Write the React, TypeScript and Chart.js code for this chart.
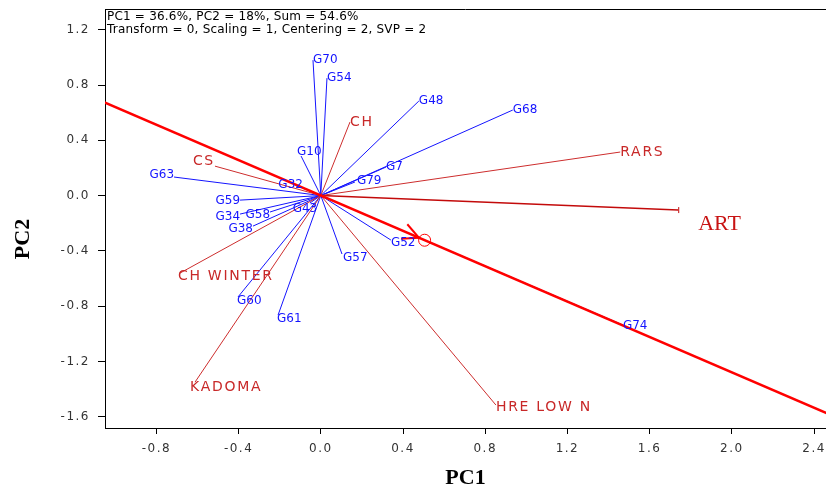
import React, { useEffect, useRef } from "react";
import { Chart, registerables } from "chart.js";

Chart.register(...registerables);

// ---- data ----
const genotypes = ["G70", "G54", "G48", "G68", "G10", "G7", "G79", "G32", "G63", "G59", "G34", "G58", "G38", "G43", "G57", "G52", "G74", "G60", "G61"];
const genoPC1 = [-0.038, 0.03, 0.477, 0.934, -0.096, 0.317, 0.166, -0.087, -0.714, -0.393, -0.393, -0.247, -0.33, -0.053, 0.103, 0.341, 1.47, -0.403, -0.208];
const genoPC2 = [0.98, 0.85, 0.684, 0.619, 0.286, 0.206, 0.098, 0.054, 0.134, -0.033, -0.134, -0.119, -0.221, -0.054, -0.423, -0.322, -0.937, -0.734, -0.865];

const environments = ["CH", "RARS", "ART", "CS", "CH WINTER", "KADOMA", "HRE LOW N"];
const envPC1 = [0.142, 1.457, 1.739, -0.515, -0.685, -0.612, 0.852];
const envPC2 = [0.532, 0.315, -0.105, 0.213, -0.561, -1.35, -1.516];

const xTicks = [-0.8, -0.4, 0.0, 0.4, 0.8, 1.2, 1.6, 2.0, 2.4];
const yTicks = [-1.6, -1.2, -0.8, -0.4, 0.0, 0.4, 0.8, 1.2];

const aeaSlope = -0.64; // average environment axis through the origin
const aeaMarkerPC1 = 0.505;

const infoLines = [
  "PC1 = 36.6%, PC2 = 18%, Sum = 54.6%",
  "Transform = 0, Scaling = 1, Centering = 2, SVP = 2",
];

// ---- label placement styles (pixel nudges, not data) ----
type LS = { align: CanvasTextAlign; dx: number; dy: number };
const labelStyle: Record<string, LS> = {
  G63: { align: "right", dx: 0, dy: -2 },
  G59: { align: "right", dx: 0, dy: 1 },
  G34: { align: "right", dx: 0, dy: 3 },
  G58: { align: "right", dx: 0, dy: 3 },
  G38: { align: "right", dx: 0, dy: 3 },
  G32: { align: "right", dx: 0, dy: -3 },
  G43: { align: "center", dx: -5, dy: 6 },
  G10: { align: "left", dx: -4, dy: -4 },
  G60: { align: "left", dx: -1, dy: 4 },
  G61: { align: "left", dx: -1, dy: 4 },
  G57: { align: "left", dx: 1, dy: 4 },
  G52: { align: "left", dx: 0, dy: 3 },
  G74: { align: "left", dx: 0, dy: 1 },
  G79: { align: "left", dx: 2, dy: -1 },
  CS: { align: "right", dx: 0, dy: -5 },
  "CH WINTER": { align: "left", dx: -2, dy: 3 },
  KADOMA: { align: "left", dx: -5, dy: 5 },
  "HRE LOW N": { align: "left", dx: 0, dy: 2 },
  ART: { align: "left", dx: 20, dy: 14 },
};
const defaultStyle: LS = { align: "left", dx: 0, dy: 0 };

const BLUE = "rgb(20,20,255)";
const RED_LINE = "rgb(205,45,45)";
const RED_TEXT = "rgb(200,40,40)";
const SANS = '"DejaVu Sans"';

const overlay = {
  id: "overlay",
  beforeDraw(chart: any) {
    chart.ctx.letterSpacing = "1.5px";
  },
  afterDatasetsDraw(chart: any) {
    const { ctx, chartArea: a, scales } = chart;
    const xs = scales.x;
    const ys = scales.y;
    ctx.save();
    ctx.letterSpacing = "0px";

    // top frame line
    ctx.strokeStyle = "#000";
    ctx.lineWidth = 1;
    ctx.beginPath();
    ctx.moveTo(a.left, Math.round(a.top) + 0.5);
    ctx.lineTo(a.right, Math.round(a.top) + 0.5);
    ctx.stroke();

    // end tick on ART vector
    const artI = environments.indexOf("ART");
    const ax = xs.getPixelForValue(envPC1[artI]);
    const ay = ys.getPixelForValue(envPC2[artI]);
    ctx.strokeStyle = "rgb(195,10,10)";
    ctx.beginPath();
    ctx.moveTo(ax + 0.5, ay - 3);
    ctx.lineTo(ax + 0.5, ay + 3);
    ctx.stroke();

    // AEA marker: circle + arrow head
    const mx = xs.getPixelForValue(aeaMarkerPC1);
    const my = ys.getPixelForValue(aeaSlope * aeaMarkerPC1);
    const p0x = xs.getPixelForValue(0), p0y = ys.getPixelForValue(0);
    let ux = mx - p0x, uy = my - p0y;
    const ul = Math.hypot(ux, uy);
    ux /= ul; uy /= ul;
    const r = 6;
    ctx.strokeStyle = "rgb(255,0,0)";
    ctx.lineWidth = 1;
    ctx.beginPath();
    ctx.arc(mx, my, r, 0, Math.PI * 2);
    ctx.stroke();
    const tx = mx - ux * r, ty = my - uy * r;
    const ang = Math.atan2(uy, ux);
    ctx.lineWidth = 2;
    for (const s of [-1, 1]) {
      const a2 = ang + Math.PI + s * 0.45;
      ctx.beginPath();
      ctx.moveTo(tx, ty);
      ctx.lineTo(tx + Math.cos(a2) * 18, ty + Math.sin(a2) * 18);
      ctx.stroke();
    }

    // genotype labels
    ctx.textBaseline = "middle";
    ctx.font = `12px ${SANS}`;
    ctx.fillStyle = BLUE;
    genotypes.forEach((g, i) => {
      const st = labelStyle[g] || defaultStyle;
      ctx.textAlign = st.align;
      ctx.fillText(g, xs.getPixelForValue(genoPC1[i]) + st.dx, ys.getPixelForValue(genoPC2[i]) + st.dy);
    });

    // environment labels
    environments.forEach((e, i) => {
      const st = labelStyle[e] || defaultStyle;
      ctx.textAlign = st.align;
      if (e === "ART") {
        ctx.letterSpacing = "0px";
        ctx.font = `22px "Liberation Serif"`;
        ctx.fillStyle = "rgb(200,20,20)";
      } else {
        ctx.letterSpacing = "1.7px";
        ctx.font = `14px ${SANS}`;
        ctx.fillStyle = RED_TEXT;
      }
      ctx.fillText(e, xs.getPixelForValue(envPC1[i]) + st.dx, ys.getPixelForValue(envPC2[i]) + st.dy);
    });

    // info text
    ctx.letterSpacing = "0.2px";
    ctx.fillStyle = "#000";
    ctx.textAlign = "left";
    ctx.font = `12px ${SANS}`;
    ctx.fillText(infoLines[0], a.left + 2, a.top + 8);
    ctx.fillText(infoLines[1], a.left + 2, a.top + 21);

    // axis titles
    ctx.letterSpacing = "0px";
    ctx.font = `bold 22px "Liberation Serif"`;
    ctx.textAlign = "center";
    ctx.fillText("PC1", (a.left + a.right) / 2, 478);
    ctx.save();
    ctx.translate(23, 239);
    ctx.rotate(-Math.PI / 2);
    ctx.fillText("PC2", 0, 0);
    ctx.restore();

    ctx.restore();
  },
  afterDraw(chart: any) {
    chart.ctx.letterSpacing = "0px";
  },
};

export default function App() {
  const ref = useRef<HTMLCanvasElement>(null);
  useEffect(() => {
    const datasets: any[] = [];
    const xMin = -1.2, xMax = 2.7;
    datasets.push({
      data: [
        { x: xMin, y: aeaSlope * xMin },
        { x: xMax, y: aeaSlope * xMax },
      ],
      borderColor: "rgb(255,0,0)",
      borderWidth: 2.5,
    });
    environments.forEach((e, i) => {
      datasets.push({
        data: [{ x: 0, y: 0 }, { x: envPC1[i], y: envPC2[i] }],
        borderColor: e === "ART" ? "rgb(195,10,10)" : RED_LINE,
        borderWidth: e === "ART" ? 1.5 : 1,
      });
    });
    genotypes.forEach((g, i) => {
      datasets.push({
        data: [{ x: 0, y: 0 }, { x: genoPC1[i], y: genoPC2[i] }],
        borderColor: BLUE,
        borderWidth: 1,
      });
    });
    datasets.forEach((d) => {
      d.showLine = true;
      d.pointRadius = 0;
      d.fill = false;
    });

    const tickFont = { family: "DejaVu Sans", size: 12 };
    const chart = new Chart(ref.current!, {
      type: "scatter",
      data: { datasets },
      plugins: [overlay],
      options: {
        responsive: false,
        animation: false,
        devicePixelRatio: 1,
        layout: { padding: { top: 9, left: 0, right: 0, bottom: 0 } },
        plugins: { legend: { display: false }, tooltip: { enabled: false } },
        scales: {
          x: {
            type: "linear",
            min: -1.05,
            max: 2.458,
            afterBuildTicks: (s: any) => {
              s.ticks = xTicks.map((v) => ({ value: v }));
            },
            afterFit: (s: any) => {
              s.height = 66;
              s.paddingLeft = 0;
              s.paddingRight = 0;
            },
            ticks: {
              autoSkip: false,
              maxRotation: 0,
              padding: 8,
              color: "#333",
              font: tickFont,
              callback: (v: any) => Number(v).toFixed(1),
            },
            grid: { drawOnChartArea: false, drawTicks: true, tickLength: 6, color: "#000" },
            border: { color: "#000", width: 1 },
          },
          y: {
            type: "linear",
            min: -1.682,
            max: 1.35,
            afterBuildTicks: (s: any) => {
              s.ticks = yTicks.map((v) => ({ value: v }));
            },
            afterFit: (s: any) => {
              s.width = 105;
              s.paddingTop = 0;
              s.paddingBottom = 0;
            },
            ticks: {
              autoSkip: false,
              padding: 8,
              color: "#333",
              font: tickFont,
              callback: (v: any) => Number(v).toFixed(1),
            },
            grid: { drawOnChartArea: false, drawTicks: true, tickLength: 7, color: "#000" },
            border: { color: "#000", width: 1 },
          },
        },
      } as any,
    });
    return () => chart.destroy();
  }, []);

  return (
    <div style={{ position: "fixed", left: 0, top: 0, width: 826, height: 494, background: "#fff" }}>
      <canvas ref={ref} width={826} height={494} style={{ display: "block" }} />
    </div>
  );
}
